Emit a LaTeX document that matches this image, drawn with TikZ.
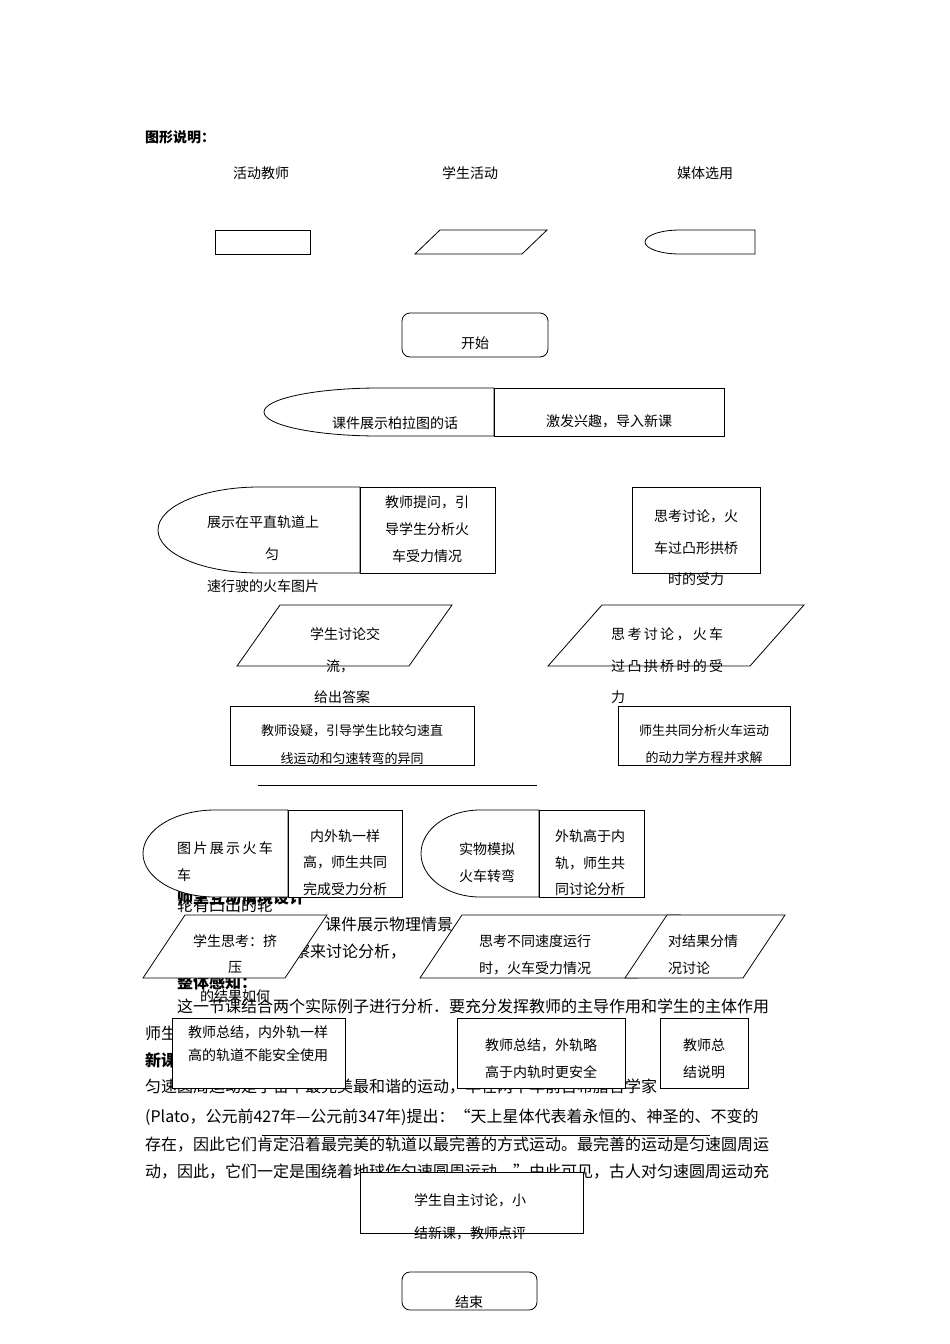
\documentclass[tikz,border=0pt]{standalone}
\usepackage{fontspec}
\setmainfont{Noto Sans CJK SC}
\begin{document}
\begin{tikzpicture}[x=1pt,y=-1pt,
  bx/.style={draw,fill=white,line width=0.8pt},
  t/.style={inner sep=0pt,font=\fontsize{14}{14}\selectfont},
  bg/.style={inner sep=0pt,anchor=west,font=\fontsize{16}{16}\selectfont},
  bgb/.style={bg,font=\fontsize{16}{16}\selectfont\bfseries}]
\useasboundingbox (0,0) rectangle (950,1344);
% background text
\node[bgb] (b1) at (177,897) {师生互动情境设计};
\node[bg] (b2) at (177,905) {轮有凸出的轮};
\node[bg] (b3) at (325,925) {课件展示物理情景，};
\node[bg] (b4) at (262,952) {、观察来讨论分析，};
\node[bg] (b4b) at (622,952) {系};
\node[bgb] (b5) at (177,982) {整体感知：};
\node[bg] (b6) at (177,1006) {这一节课结合两个实际例子进行分析．要充分发挥教师的主导作用和学生的主体作用};
\node[bg] (b7) at (145,1033) {师生};
\node[bgb] (b8) at (145,1060) {新课};
\node[bg] (b9) at (145,1087) {匀速圆周运动是宇宙中最完美最和谐的运动，早在两千年前古希腊哲学家};
\node[bg] (b10) at (145,1117) {(Plato，公元前427年—公元前347年)提出：“天上星体代表着永恒的、神圣的、不变的};
\node[bg] (b11) at (145,1145) {存在，因此它们肯定沿着最完美的轨道以最完善的方式运动。最完善的运动是匀速圆周运};
\node[bg] (b12) at (145,1172) {动，因此，它们一定是围绕着地球作匀速圆周运动。”由此可见，古人对匀速圆周运动充};
\draw[line width=0.8pt] (262,1135) coordinate (l1) -- (710,1135) coordinate (l2);
% legend
\node[inner sep=0pt,anchor=west,font=\fontsize{14}{14}\selectfont\bfseries] (h) at (145,137) {图形说明：};
\node[t] (la) at (261,173) {活动教师};
\node[t] (lb) at (470,173) {学生活动};
\node[t] (lc) at (705,173) {媒体选用};
\draw[bx] (215,230) rectangle (310,254);
\draw[bx] (415,254) -- (440,230) -- (547,230) -- (522,254) -- cycle;
\draw[bx] (755,230) -- (680,230) arc[start angle=270,end angle=90,x radius=35,y radius=12] -- (755,254) -- cycle;
% start
\draw[bx,rounded corners=8pt] (402,313) rectangle (548,357);
\node[t] (start) at (475,343) {开始};
% row 1
\draw[bx] (494,388) -- (379,388) arc[start angle=270,end angle=90,x radius=115,y radius=24] -- (494,436) -- cycle;
\node[t] (r1a) at (395,423) {课件展示柏拉图的话};
\draw[bx] (494,388) rectangle (724,436);
\node[t] (r1b) at (609,421) {激发兴趣，导入新课};
% row 2
\draw[bx] (360,487) -- (259,487) arc[start angle=270,end angle=90,x radius=101,y radius=43] -- (360,573) -- cycle;
\node[t,anchor=west] (r2a1) at (207,522) {展示在平直轨道上};
\node[t] (r2a2) at (272,554) {匀};
\node[t,anchor=west] (r2a3) at (207,586) {速行驶的火车图片};
\draw[bx] (360,487) rectangle (495,573);
\node[t,align=center] (r2b) at (427,529) {教师提问，引\\[13pt]导学生分析火\\[13pt]车受力情况};
\draw[bx] (632,487) rectangle (760,573);
\node[t] (r2c1) at (696,516) {思考讨论，火};
\node[t] (r2c2) at (696,548) {车过凸形拱桥};
\node[t] (r2c3) at (696,579) {时的受力};
% row 3
\draw[bx] (237,666) -- (280,605) -- (452,605) -- (409,666) -- cycle;
\node[t] (r3a1) at (345,634) {学生讨论交};
\node[t] (r3a2) at (340,666) {流，};
\node[t] (r3a3) at (342,697) {给出答案};
\draw[bx] (548,666) -- (602,605) -- (804,605) -- (750,666) -- cycle;
\node[t,anchor=west] (r3b1) at (611,634) {思\,考\,讨\,论\,，\,火\,车};
\node[t,anchor=west] (r3b2) at (611,666) {过\,凸\,拱\,桥\,时\,的\,受};
\node[t,anchor=west] (r3b3) at (611,697) {力};
% row 4
\draw[bx] (230,706) rectangle (474,765);
\node[t,font=\fontsize{13}{13}\selectfont] (r4a1) at (352,731) {教师设疑，引导学生比较匀速直};
\node[t,font=\fontsize{13}{13}\selectfont] (r4a2) at (352,758) {线运动和匀速转弯的异同};
\draw[bx] (618,706) rectangle (790,765);
\node[t,font=\fontsize{13}{13}\selectfont] (r4b1) at (704,731) {师生共同分析火车运动};
\node[t,font=\fontsize{13}{13}\selectfont] (r4b2) at (704,758) {的动力学方程并求解};
\draw[line width=0.8pt] (258,785) coordinate (l3) -- (537,785) coordinate (l4);
% row 5
\draw[bx] (288,810) -- (215,810) arc[start angle=270,end angle=90,x radius=72,y radius=43.5] -- (288,897) -- cycle;
\node[t,anchor=west] (r5a1) at (177,848) {图\,片\,展\,示\,火\,车};
\node[t,anchor=west] (r5a2) at (177,875) {车};
\draw[bx] (288,810) rectangle (402,897);
\node[t] (r5b1) at (345,836) {内外轨一样};
\node[t] (r5b2) at (345,862) {高，师生共同};
\node[t] (r5b3) at (345,889) {完成受力分析};
\draw[bx] (539,810) -- (480,810) arc[start angle=270,end angle=90,x radius=59,y radius=43.5] -- (539,897) -- cycle;
\node[t] (r5c1) at (487,849) {实物模拟};
\node[t] (r5c2) at (487,876) {火车转弯};
\draw[bx] (539,810) rectangle (644,897);
\node[t,anchor=west] (r5d1) at (555,836) {外轨高于内};
\node[t,anchor=west] (r5d2) at (555,863) {轨，师生共};
\node[t,anchor=west] (r5d3) at (555,889) {同讨论分析};
% row 6
\draw[bx] (143,978) -- (185,915) -- (327,915) -- (285,978) -- cycle;
\node[t] (r6a1) at (235,941) {学生思考：挤};
\node[t] (r6a2) at (235,968) {压};
\node[t] (r6a3) at (235,996) {的结果如何};
\draw[bx] (420,978) -- (462,915) -- (680,915) -- (638,978) -- cycle;
\node[t] (r6b1) at (535,941) {思考不同速度运行};
\node[t] (r6b2) at (535,968) {时，火车受力情况};
\draw[bx] (625,978) -- (667,915) -- (785,915) -- (743,978) -- cycle;
\node[t,anchor=west] (r6c1) at (668,941) {对结果分情};
\node[t,anchor=west] (r6c2) at (668,968) {况讨论};
% row 7
\draw[bx] (172,1018) rectangle (345,1088);
\node[t] (r7a1) at (258,1032) {教师总结，内外轨一样};
\node[t] (r7a2) at (258,1055) {高的轨道不能安全使用};
\draw[bx] (457,1018) rectangle (625,1088);
\node[t] (r7b1) at (541,1045) {教师总结，外轨略};
\node[t] (r7b2) at (541,1072) {高于内轨时更安全};
\draw[bx] (660,1018) rectangle (748,1088);
\node[t] (r7c1) at (704,1045) {教师总};
\node[t] (r7c2) at (704,1072) {结说明};
% row 8
\draw[bx] (360,1172) rectangle (583,1233);
\node[t] (r8a1) at (470,1200) {学生自主讨论，小};
\node[t] (r8a2) at (470,1233) {结新课，教师点评};
\draw[bx,rounded corners=8pt] (402,1272) rectangle (537,1310);
\node[t] (end) at (469,1302) {结束};
\end{tikzpicture}
\end{document}
